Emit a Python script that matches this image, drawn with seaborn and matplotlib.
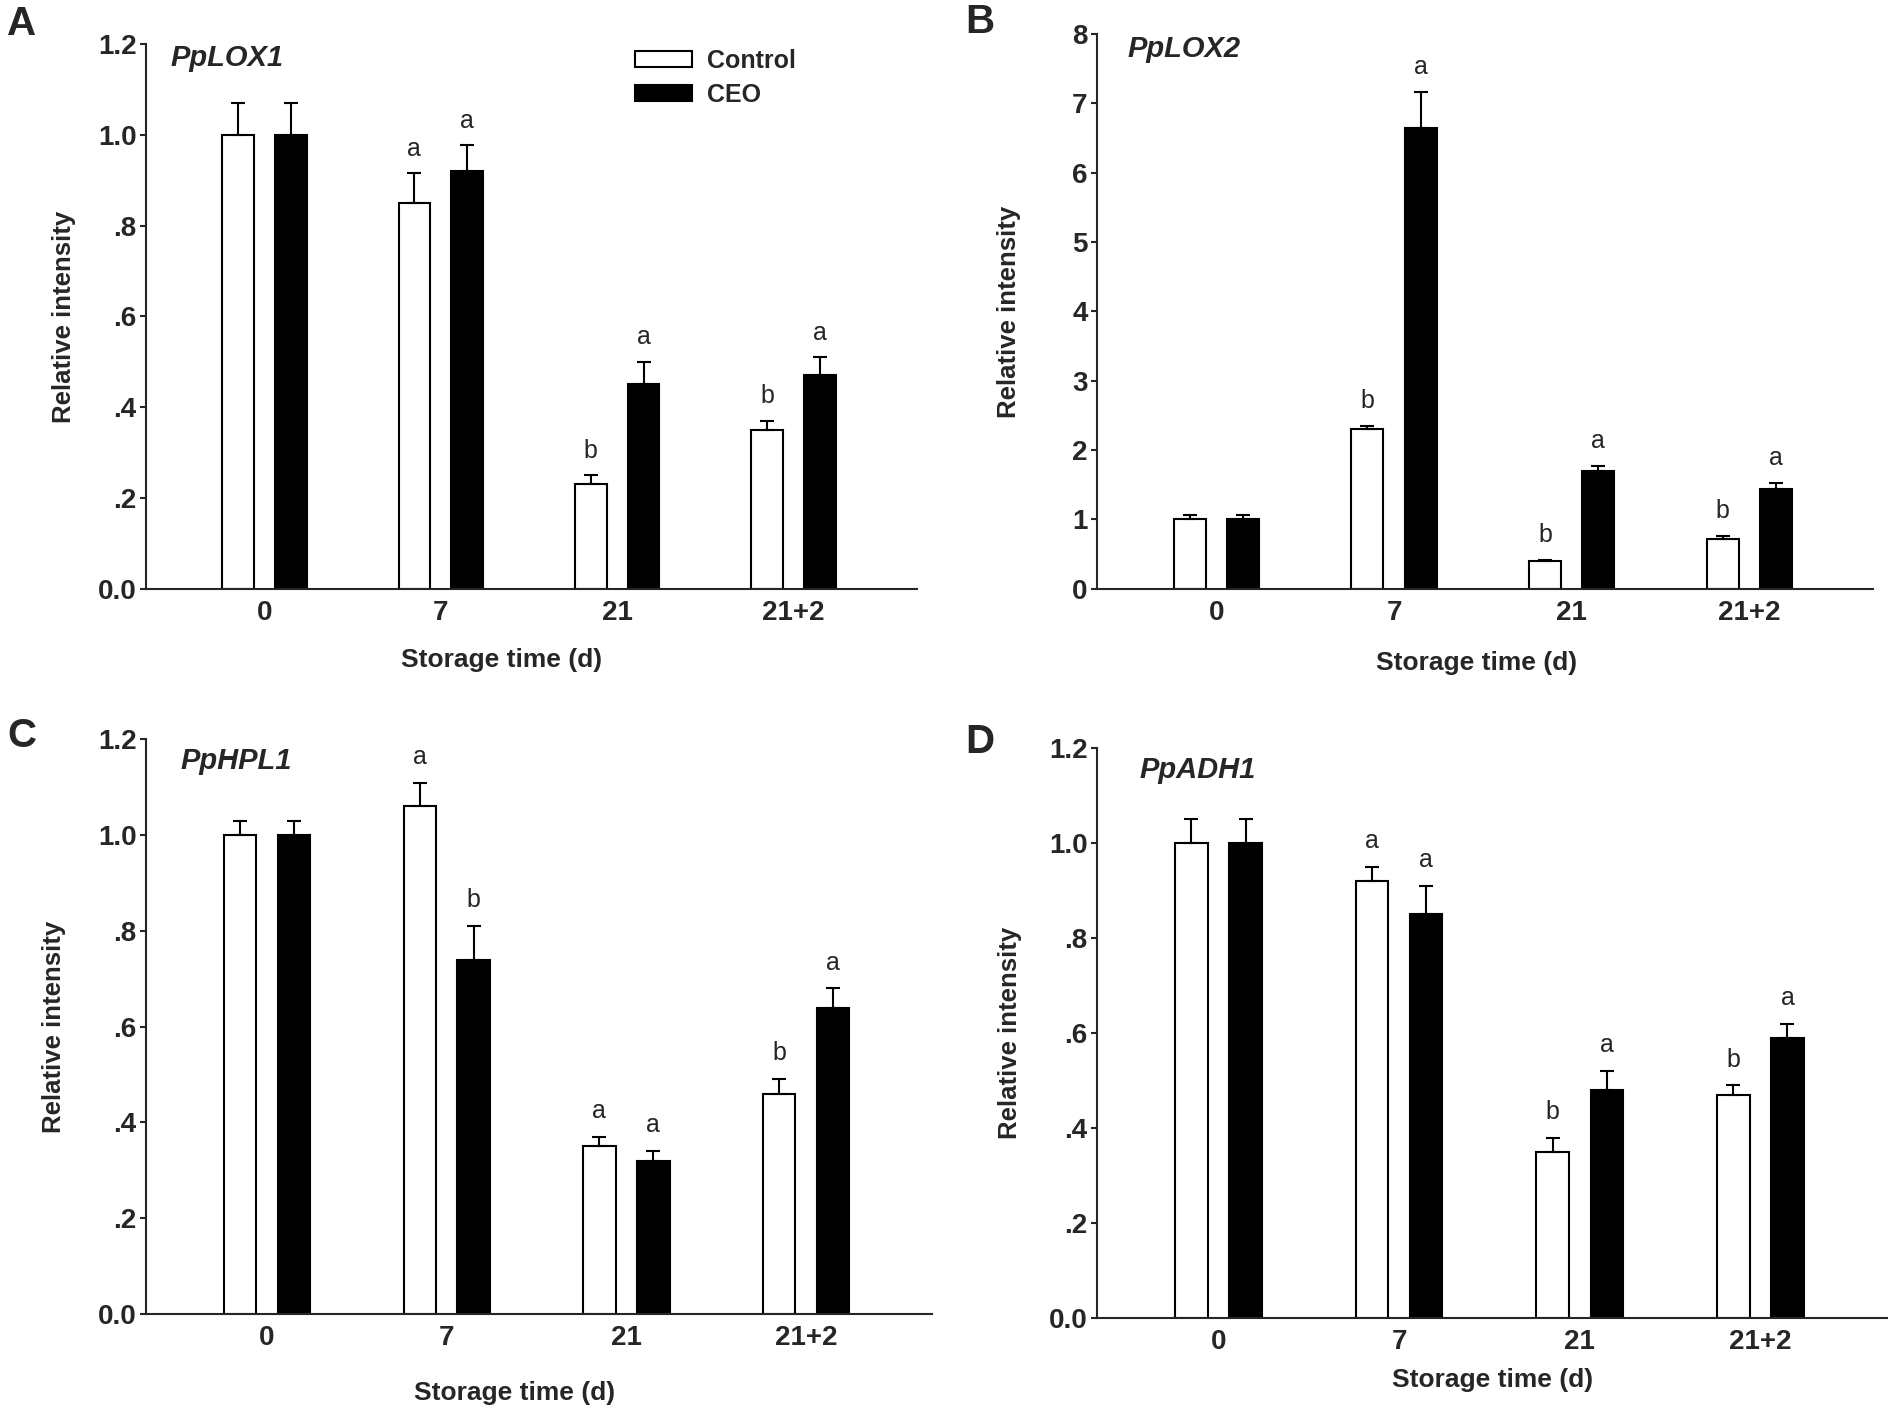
import matplotlib
matplotlib.use("Agg")
import matplotlib.pyplot as plt
from matplotlib.patches import Patch
from matplotlib.ticker import FuncFormatter
import seaborn as sns
import pandas as pd

TIMES = ['0', '7', '21', '21+2']
GROUPS = ['Control', 'CEO']

# PpLOX1
LOX1_CONTROL = [1.00, 0.85, 0.23, 0.35]
LOX1_CONTROL_ERR = [0.07, 0.065, 0.02, 0.02]
LOX1_CEO = [1.00, 0.92, 0.45, 0.47]
LOX1_CEO_ERR = [0.07, 0.057, 0.05, 0.04]
LOX1_CONTROL_LETTERS = ['', 'a', 'b', 'b']
LOX1_CEO_LETTERS = ['', 'a', 'a', 'a']

# PpLOX2
LOX2_CONTROL = [1.00, 2.30, 0.40, 0.72]
LOX2_CONTROL_ERR = [0.06, 0.05, 0.02, 0.04]
LOX2_CEO = [1.00, 6.65, 1.70, 1.44]
LOX2_CEO_ERR = [0.06, 0.51, 0.07, 0.08]
LOX2_CONTROL_LETTERS = ['', 'b', 'b', 'b']
LOX2_CEO_LETTERS = ['', 'a', 'a', 'a']

# PpHPL1
HPL1_CONTROL = [1.00, 1.06, 0.35, 0.46]
HPL1_CONTROL_ERR = [0.03, 0.05, 0.02, 0.03]
HPL1_CEO = [1.00, 0.74, 0.32, 0.64]
HPL1_CEO_ERR = [0.03, 0.07, 0.02, 0.04]
HPL1_CONTROL_LETTERS = ['', 'a', 'a', 'b']
HPL1_CEO_LETTERS = ['', 'b', 'a', 'a']

# PpADH1
ADH1_CONTROL = [1.00, 0.92, 0.35, 0.47]
ADH1_CONTROL_ERR = [0.05, 0.03, 0.03, 0.02]
ADH1_CEO = [1.00, 0.85, 0.48, 0.59]
ADH1_CEO_ERR = [0.05, 0.06, 0.04, 0.03]
ADH1_CONTROL_LETTERS = ['', 'a', 'b', 'b']
ADH1_CEO_LETTERS = ['', 'a', 'a', 'a']

FONT = 'Liberation Sans'


def make_frame(control, control_err, control_letters, ceo, ceo_err, ceo_letters):
    rows = []
    for t, v, e, l in zip(TIMES, control, control_err, control_letters):
        rows.append(dict(time=t, group='Control', value=v, err=e, letter=l))
    for t, v, e, l in zip(TIMES, ceo, ceo_err, ceo_letters):
        rows.append(dict(time=t, group='CEO', value=v, err=e, letter=l))
    return pd.DataFrame(rows)


def decimal_fmt(v, pos):
    if abs(v) < 1e-9:
        return '0.0'
    s = f'{v:.1f}'
    return s[1:] if s.startswith('0') else s


def draw_panel(ax, df, gene, ymax, ticks, fmt, gene_xy, ylab_x, xlab_xy,
               legend=False):
    sns.barplot(
        data=df, x='time', y='value', hue='group', order=TIMES,
        hue_order=GROUPS, palette={'Control': 'white', 'CEO': 'black'},
        edgecolor='black', linewidth=1.5, width=0.6, gap=0.4,
        errorbar=None, legend=False, ax=ax
    )
    for container, group in zip(ax.containers, GROUPS):
        sub = df[df.group == group].set_index('time').loc[TIMES]
        xs = [bar.get_x() + bar.get_width() / 2 for bar in container]
        ax.errorbar(
            xs, sub['value'], yerr=[[0] * len(xs), list(sub['err'])],
            fmt='none', ecolor='black', elinewidth=1.5, capsize=5,
            capthick=1.5, zorder=3
        )
        for x, v, e, letter in zip(xs, sub['value'], sub['err'], sub['letter']):
            if letter:
                ax.text(x, v + e + 0.045 * ymax, letter, ha='center',
                        va='center', fontsize=18, family=FONT)

    ax.set_xlim(-0.67, 3.70)
    ax.set_ylim(0, ymax)
    ax.set_yticks(ticks)
    ax.yaxis.set_major_formatter(FuncFormatter(fmt))
    sns.despine(ax=ax)
    for side in ('left', 'bottom'):
        ax.spines[side].set_linewidth(1.5)
    ax.tick_params(axis='y', direction='out', length=4, width=1.5,
                   labelsize=20, pad=3)
    ax.tick_params(axis='x', length=0, labelsize=20, pad=8)
    for lab in ax.get_xticklabels() + ax.get_yticklabels():
        lab.set_fontweight('bold')
        lab.set_family(FONT)

    ax.set_ylabel('Relative intensity', fontsize=18.5, fontweight='bold',
                  family=FONT)
    ax.yaxis.set_label_coords(ylab_x, 0.5)
    ax.set_xlabel('Storage time (d)', fontsize=19, fontweight='bold',
                  family=FONT)
    ax.xaxis.set_label_coords(*xlab_xy)

    ax.text(gene_xy[0], gene_xy[1], gene, transform=ax.transAxes,
            ha='left', va='center', fontsize=21, fontweight='bold',
            fontstyle='italic', family=FONT)

    if legend:
        handles = [
            Patch(facecolor='white', edgecolor='black', linewidth=1.5,
                  label='Control'),
            Patch(facecolor='black', edgecolor='black', linewidth=1.5,
                  label='CEO'),
        ]
        ax.legend(handles=handles, loc='upper left',
                  bbox_to_anchor=(0.605, 1.033), frameon=False,
                  prop={'family': FONT, 'weight': 'bold', 'size': 18},
                  handlelength=2.3, handleheight=0.6, handletextpad=0.6,
                  labelspacing=0.4)


sns.set_style('ticks')
plt.rcParams['font.family'] = [FONT, 'DejaVu Sans']

fig = plt.figure(figsize=(19.02, 14.22), dpi=100)
ax_a = fig.add_axes([0.077, 0.586, 0.405, 0.383])
ax_b = fig.add_axes([0.577, 0.586, 0.408, 0.390])
ax_c = fig.add_axes([0.077, 0.076, 0.413, 0.404])
ax_d = fig.add_axes([0.577, 0.073, 0.415, 0.401])

dec_ticks = [0, 0.2, 0.4, 0.6, 0.8, 1.0, 1.2]

draw_panel(ax_a,
           make_frame(LOX1_CONTROL, LOX1_CONTROL_ERR, LOX1_CONTROL_LETTERS,
                      LOX1_CEO, LOX1_CEO_ERR, LOX1_CEO_LETTERS),
           'PpLOX1', 1.2, dec_ticks, decimal_fmt, (0.031, 0.974), -0.092,
           (0.461, -0.108), legend=True)
draw_panel(ax_b,
           make_frame(LOX2_CONTROL, LOX2_CONTROL_ERR, LOX2_CONTROL_LETTERS,
                      LOX2_CEO, LOX2_CEO_ERR, LOX2_CEO_LETTERS),
           'PpLOX2', 8, list(range(9)), lambda v, p: f'{v:.0f}',
           (0.039, 0.974), -0.099, (0.488, -0.112))
draw_panel(ax_c,
           make_frame(HPL1_CONTROL, HPL1_CONTROL_ERR, HPL1_CONTROL_LETTERS,
                      HPL1_CEO, HPL1_CEO_ERR, HPL1_CEO_LETTERS),
           'PpHPL1', 1.2, dec_ticks, decimal_fmt, (0.043, 0.962), -0.103,
           (0.468, -0.117))
draw_panel(ax_d,
           make_frame(ADH1_CONTROL, ADH1_CONTROL_ERR, ADH1_CONTROL_LETTERS,
                      ADH1_CEO, ADH1_CEO_ERR, ADH1_CEO_LETTERS),
           'PpADH1', 1.2, dec_ticks, decimal_fmt, (0.053, 0.961), -0.095,
           (0.50, -0.088))

for letter, (px, py) in zip('ABCD', [(22, 24), (980, 22), (22, 736), (980, 742)]):
    fig.text(px / 1902, 1 - py / 1422, letter, ha='center', va='center',
             fontsize=29, fontweight='bold', family=FONT)

fig.savefig('out.png', dpi=100)
